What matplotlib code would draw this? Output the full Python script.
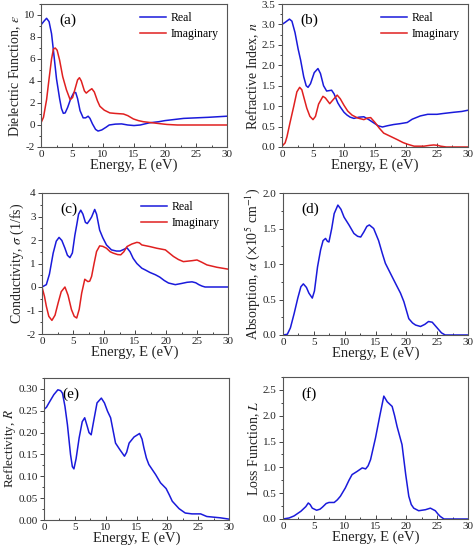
import matplotlib
matplotlib.use("Agg")
import matplotlib.pyplot as plt
from matplotlib.ticker import MultipleLocator

plt.rcParams['font.family'] = ['Liberation Serif', 'DejaVu Serif']
plt.rcParams['mathtext.fontset'] = 'stix'

BLUE = '#1a1adb'
RED = '#e02020'

# === (a) dielectric function ===
a_re_x = [0, 0.5, 0.9, 1.3, 1.7, 2.0, 2.5, 3.0, 3.3, 3.6, 3.9, 4.3, 4.8, 5.3, 5.6, 5.9, 6.3, 6.8, 7.2, 7.6, 7.9, 8.3, 8.8, 9.2, 9.8, 10.5, 11, 12, 13, 14, 15, 16, 17.5, 19, 20, 21.5, 23, 25, 27, 30]
a_re_y = [9.1, 9.45, 9.7, 9.4, 8.3, 6.8, 4.2, 2.4, 1.5, 1.06, 1.1, 1.6, 2.4, 2.95, 2.95, 2.4, 1.3, 0.65, 0.65, 0.8, 0.6, 0.1, -0.4, -0.55, -0.45, -0.2, 0.0, 0.08, 0.1, 0.0, -0.05, 0.0, 0.2, 0.3, 0.4, 0.5, 0.6, 0.65, 0.7, 0.8]
a_im_x = [0, 0.4, 0.9, 1.3, 1.7, 2.0, 2.3, 2.6, 3.0, 3.5, 4.1, 4.7, 5.1, 5.5, 5.9, 6.2, 6.5, 7.0, 7.3, 7.7, 8.2, 8.6, 9.1, 9.5, 10.2, 11.1, 12, 13.3, 14, 14.9, 15.7, 16.5, 18, 19.2, 20.3, 22, 30]
a_im_y = [0.2, 0.7, 2.3, 4.2, 6.0, 6.9, 7.0, 6.8, 5.9, 4.4, 3.2, 2.3, 2.5, 3.3, 4.1, 4.3, 4.0, 3.1, 2.9, 3.1, 3.3, 3.0, 2.2, 1.7, 1.35, 1.1, 1.05, 1.0, 0.85, 0.55, 0.4, 0.3, 0.2, 0.12, 0.05, 0.0, 0.0]

# === (b) refractive index ===
b_re_x = [0, 0.5, 1.2, 1.6, 2.1, 2.6, 3.0, 3.5, 3.9, 4.2, 4.6, 5.2, 5.8, 6.2, 6.7, 7.2, 7.6, 8.0, 8.4, 9.0, 9.4, 10, 10.5, 11, 11.6, 12.4, 13.2, 14, 14.8, 15.5, 16.2, 17, 18, 19, 20.2, 21, 22.3, 23.5, 25, 26, 27.7, 29, 30]
b_re_y = [3.0, 3.05, 3.13, 3.08, 2.8, 2.4, 2.13, 1.72, 1.5, 1.46, 1.55, 1.82, 1.92, 1.8, 1.5, 1.37, 1.38, 1.39, 1.3, 1.08, 0.98, 0.85, 0.78, 0.73, 0.70, 0.73, 0.74, 0.67, 0.59, 0.52, 0.49, 0.52, 0.55, 0.57, 0.60, 0.68, 0.76, 0.80, 0.80, 0.82, 0.85, 0.87, 0.90]
b_im_x = [0, 0.5, 0.8, 1.3, 1.9, 2.4, 2.85, 3.2, 3.5, 4.0, 4.5, 5.0, 5.4, 5.9, 6.6, 7.0, 7.7, 8.2, 8.9, 9.4, 10, 10.6, 11.3, 12.2, 13.2, 13.8, 14.3, 15, 15.7, 16.4, 17.5, 18.6, 19.5, 20.2, 21.3, 22.9, 23.8, 24.5, 25.1, 25.6, 26.5, 30]
b_im_y = [0.02, 0.1, 0.25, 0.6, 1.0, 1.35, 1.46, 1.4, 1.23, 0.95, 0.75, 0.67, 0.75, 1.05, 1.24, 1.2, 1.06, 1.15, 1.27, 1.18, 1.02, 0.88, 0.78, 0.71, 0.67, 0.71, 0.72, 0.60, 0.46, 0.34, 0.26, 0.18, 0.11, 0.07, 0.02, 0.02, 0.04, 0.05, 0.04, 0.02, 0.0, 0.0]

# === (c) conductivity ===
c_re_x = [0, 0.7, 1.2, 1.8, 2.3, 2.75, 3.2, 3.7, 4.1, 4.5, 4.9, 5.3, 5.6, 5.9, 6.25, 6.6, 7.0, 7.3, 7.7, 8.0, 8.5, 8.8, 9.3, 9.8, 10.4, 11.2, 12, 12.6, 13.2, 13.7, 14.2, 14.7, 15.3, 16.1, 16.7, 17.4, 18.3, 19, 19.7, 20.4, 21.5, 22.5, 23.4, 24.2, 24.8, 25.3, 25.8, 26.3, 30]
c_re_y = [0, 0.1, 0.55, 1.44, 1.95, 2.11, 1.98, 1.65, 1.35, 1.25, 1.45, 2.2, 2.64, 3.1, 3.27, 3.1, 2.75, 2.7, 2.85, 2.98, 3.3, 3.1, 2.42, 2.1, 1.79, 1.58, 1.53, 1.53, 1.6, 1.67, 1.5, 1.22, 1.0, 0.8, 0.72, 0.62, 0.52, 0.42, 0.28, 0.17, 0.1, 0.15, 0.2, 0.22, 0.18, 0.1, 0.04, 0.0, 0.0]
c_im_x = [0, 0.4, 0.7, 1.1, 1.6, 2.1, 2.6, 3.1, 3.7, 4.2, 4.75, 5.2, 5.6, 6.0, 6.4, 6.9, 7.4, 7.7, 8.0, 8.4, 8.8, 9.3, 9.8, 10.4, 11.0, 11.5, 12.2, 12.7, 13.2, 13.7, 14.5, 15.3, 15.7, 16.1, 17.4, 18.5, 19.9, 20.5, 21.2, 22, 22.8, 24.2, 25, 25.8, 26.6, 28.2, 30]
c_im_y = [0, -0.4, -0.82, -1.25, -1.42, -1.2, -0.68, -0.2, 0.0, -0.35, -0.96, -1.25, -1.32, -0.95, -0.26, 0.33, 0.23, 0.25, 0.45, 1.0, 1.51, 1.75, 1.73, 1.65, 1.5, 1.44, 1.38, 1.37, 1.5, 1.72, 1.83, 1.9, 1.88, 1.79, 1.72, 1.65, 1.58, 1.45, 1.3, 1.17, 1.08, 1.12, 1.15, 1.05, 0.94, 0.84, 0.76]

# === (d) absorption ===
d_x = [0, 0.7, 1.2, 1.8, 2.4, 2.9, 3.3, 3.8, 4.2, 4.75, 5.1, 5.6, 6.1, 6.5, 6.9, 7.2, 7.45, 7.9, 8.3, 8.9, 9.4, 9.9, 10.7, 11.5, 12.1, 12.6, 13.1, 13.6, 14.0, 14.7, 15.5, 16.1, 16.6, 17.7, 18.4, 19.05, 19.6, 20.0, 20.4, 21, 21.5, 22.3, 23, 23.6, 24.2, 24.7, 25.2, 25.7, 26.3, 30]
d_y = [0, 0.01, 0.1, 0.3, 0.52, 0.68, 0.72, 0.67, 0.59, 0.52, 0.62, 0.96, 1.2, 1.33, 1.36, 1.32, 1.31, 1.5, 1.71, 1.83, 1.77, 1.66, 1.55, 1.43, 1.39, 1.38, 1.45, 1.53, 1.55, 1.5, 1.33, 1.15, 1.01, 0.82, 0.7, 0.59, 0.47, 0.35, 0.23, 0.17, 0.14, 0.12, 0.15, 0.19, 0.18, 0.13, 0.08, 0.03, 0.0, 0.0]

# === (e) reflectivity ===
e_x = [0, 0.4, 0.8, 1.6, 2.25, 2.7, 3.0, 3.4, 3.8, 4.3, 4.6, 4.85, 5.2, 5.7, 6.2, 6.6, 7.0, 7.3, 7.65, 8.1, 8.6, 9.3, 9.8, 10.3, 10.8, 11.2, 11.6, 12.3, 13.05, 13.4, 13.8, 14.6, 15.5, 15.9, 16.2, 16.6, 17.0, 18.1, 18.9, 19.8, 20.3, 20.8, 21.9, 22.9, 24, 25.4, 26.4, 28.6, 30]
e_y = [0.253, 0.258, 0.268, 0.287, 0.298, 0.296, 0.29, 0.26, 0.218, 0.15, 0.122, 0.117, 0.14, 0.188, 0.225, 0.234, 0.215, 0.2, 0.195, 0.23, 0.268, 0.279, 0.268, 0.249, 0.234, 0.205, 0.176, 0.161, 0.146, 0.155, 0.176, 0.19, 0.198, 0.185, 0.165, 0.142, 0.127, 0.104, 0.085, 0.072, 0.058, 0.043, 0.026, 0.016, 0.014, 0.014, 0.008, 0.005, 0.002]

# === (f) loss function ===
f_x = [0, 1, 1.8, 2.9, 3.7, 4.1, 4.4, 4.75, 5.45, 6.0, 6.4, 7.0, 7.45, 8.3, 8.8, 9.3, 10.1, 10.7, 11.2, 12.0, 12.85, 13.4, 13.8, 14.2, 15.0, 15.7, 16.35, 16.9, 17.7, 18.1, 18.5, 19.3, 19.9, 20.4, 20.8, 21.2, 22, 23.1, 23.9, 24.7, 25.1, 25.5, 26.1, 30]
f_y = [0, 0.02, 0.06, 0.15, 0.24, 0.31, 0.28, 0.21, 0.17, 0.19, 0.23, 0.3, 0.32, 0.32, 0.37, 0.44, 0.6, 0.75, 0.86, 0.92, 0.99, 0.97, 1.03, 1.15, 1.57, 2.0, 2.38, 2.27, 2.18, 2.0, 1.79, 1.44, 0.86, 0.44, 0.28, 0.21, 0.16, 0.18, 0.21, 0.16, 0.1, 0.05, 0.0, 0.0]

fig = plt.figure(figsize=(4.74, 5.52), dpi=100)

W, H = 474, 552
def add_ax(left, top, right, bottom):
    return fig.add_axes([left / W, 1 - bottom / H, (right - left) / W, (bottom - top) / H])

axes = [
    add_ax(41, 4, 227, 147),
    add_ax(282, 4, 468, 147),
    add_ax(42, 193, 228, 334),
    add_ax(283, 193, 468, 335),
    add_ax(44, 378, 229, 520),
    add_ax(283, 377, 468, 519),
]

def style(ax, ylabel, ylim, ymaj, ymin, fmt, tag, ysize=10):
    ax.set_xlim(0, 30)
    ax.set_ylim(*ylim)
    ax.xaxis.set_major_locator(MultipleLocator(5))
    ax.xaxis.set_minor_locator(MultipleLocator(2.5))
    ax.yaxis.set_major_locator(MultipleLocator(ymaj))
    ax.yaxis.set_minor_locator(MultipleLocator(ymin))
    ax.yaxis.set_major_formatter(plt.FormatStrFormatter(fmt))
    ax.tick_params(which='both', top=False, right=False, labelsize=8,
                   width=0.7, colors='#444444', labelcolor='#222222')
    ax.tick_params(axis='x', which='both', direction='in', pad=2)
    ax.tick_params(axis='y', which='both', direction='out', pad=1.5)
    ax.tick_params(which='major', length=3)
    ax.tick_params(which='minor', length=1.8)
    for s in ax.spines.values():
        s.set_color('#555555')
        s.set_linewidth(0.8)
    ax.set_xlabel('Energy, E (eV)', fontsize=10.5, labelpad=0, color='#222222')
    ax.set_ylabel(ylabel, fontsize=ysize, labelpad=0.5, color='#222222')
    ax.text(0.1, 0.93, tag, transform=ax.transAxes, fontsize=11, va='top', ha='left')

ax = axes[0]
ax.plot(a_re_x, a_re_y, color=BLUE, lw=1.1, label='Real')
ax.plot(a_im_x, a_im_y, color=RED, lw=1.1, label='Imaginary')
style(ax, r'Dielectric Function, $\varepsilon$', (-2, 11), 2, 1, '%d', '(a)')

ax = axes[1]
ax.plot(b_re_x, b_re_y, color=BLUE, lw=1.1, label='Real')
ax.plot(b_im_x, b_im_y, color=RED, lw=1.1, label='Imaginary')
style(ax, r'Refractive Index, $n$', (0, 3.5), 0.5, 0.25, '%.1f', '(b)')

ax = axes[2]
ax.plot(c_re_x, c_re_y, color=BLUE, lw=1.1, label='Real')
ax.plot(c_im_x, c_im_y, color=RED, lw=1.1, label='Imaginary')
style(ax, r'Conductivity, $\sigma$ (1/fs)', (-2, 4), 1, 0.5, '%d', '(c)')

ax = axes[3]
ax.plot(d_x, d_y, color=BLUE, lw=1.1)
style(ax, r'Absorption, $\alpha$ ($\times$10$^5$ cm$^{-1}$)', (0, 2.0), 0.5, 0.25, '%.1f', '(d)')

ax = axes[4]
ax.plot(e_x, e_y, color=BLUE, lw=1.1)
style(ax, r'Reflectivity, $R$', (0, 0.325), 0.05, 0.025, '%.2f', '(e)', ysize=9.5)

ax = axes[5]
ax.plot(f_x, f_y, color=BLUE, lw=1.1)
style(ax, r'Loss Function, $L$', (0, 2.75), 0.5, 0.25, '%.1f', '(f)')

for ax in axes[:3]:
    ax.legend(loc='upper right', frameon=False, fontsize=8.5, handlelength=2.2,
              handletextpad=0.4, borderaxespad=0.3, labelspacing=0.3)

fig.savefig('out.png', dpi=100)
